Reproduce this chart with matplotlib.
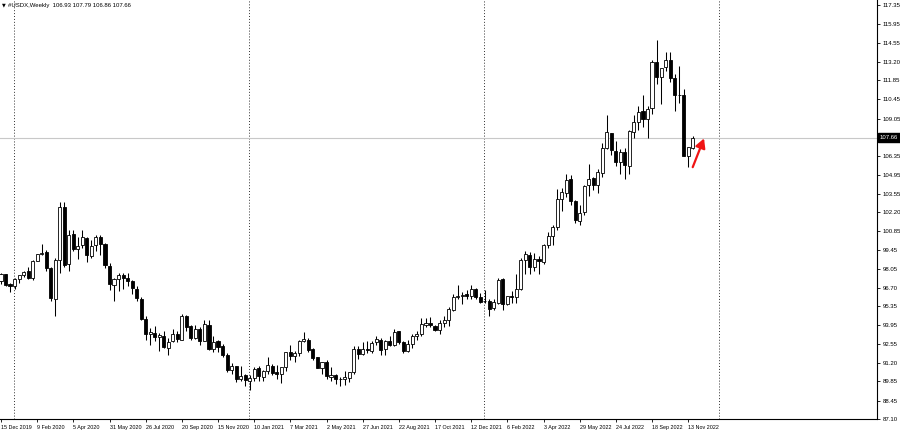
import matplotlib
matplotlib.use('Agg')
import matplotlib.pyplot as plt
import numpy as np

plt.rcParams['font.family'] = ['Liberation Sans', 'DejaVu Sans']

# weekly USDX bars, first bar = week of 15 Dec 2019 (8 bars per row)
opens = [
    97.16, 97.68, 96.95, 96.84, 97.36, 97.60, 97.90, 97.39,
    98.68, 99.12, 99.30, 98.10, 95.90, 98.75, 102.60, 98.40,
    100.60, 99.50, 99.80, 100.30, 99.00, 99.80, 100.40, 99.90,
    98.30, 96.90, 97.30, 97.60, 97.40, 97.20, 96.60, 95.90,
    94.40, 93.30, 93.40, 93.10, 93.20, 92.30, 92.80, 93.30,
    92.90, 94.60, 93.90, 93.00, 93.70, 92.80, 94.00, 92.20,
    92.80, 92.40, 91.80, 90.70, 91.00, 90.00, 90.30, 89.90,
    90.10, 90.80, 90.20, 90.60, 91.00, 90.50, 90.40, 90.90,
    92.00, 91.70, 91.90, 92.80, 92.90, 92.20, 91.60, 90.85,
    91.30, 90.20, 90.30, 90.00, 90.00, 90.10, 90.55, 92.20,
    91.85, 92.20, 92.10, 92.70, 92.90, 92.20, 92.80, 92.50,
    93.50, 92.70, 92.10, 92.60, 93.20, 93.30, 94.00, 94.10,
    93.90, 93.60, 94.10, 94.30, 95.10, 96.00, 96.10, 96.20,
    96.10, 96.60, 96.00, 95.70, 95.70, 95.20, 95.60, 97.30,
    95.50, 96.10, 96.00, 96.60, 98.70, 99.10, 98.20, 98.80,
    98.60, 99.80, 100.50, 101.10, 103.20, 103.60, 104.60, 103.00,
    101.60, 102.20, 104.20, 104.70, 104.20, 105.10, 106.90, 108.00,
    106.70, 105.90, 106.60, 105.60, 108.10, 108.80, 109.60, 109.00,
    109.80, 113.20, 112.10, 112.80, 113.30, 112.00, 110.80, 110.80,
    106.30, 106.93,
]
highs = [
    97.78, 97.72, 97.05, 97.42, 97.58, 97.95, 98.19, 98.73,
    99.15, 99.91, 99.45, 98.20, 98.90, 102.99, 102.95, 100.93,
    100.90, 100.40, 100.93, 100.40, 100.15, 100.55, 100.56, 99.97,
    98.50, 97.40, 97.80, 97.75, 97.80, 97.25, 96.80, 96.05,
    94.60, 93.72, 93.90, 93.40, 93.50, 93.00, 93.66, 93.50,
    94.74, 94.70, 94.00, 94.00, 93.80, 94.30, 94.30, 93.20,
    92.90, 92.60, 91.90, 91.20, 91.00, 91.00, 90.40, 90.30,
    90.90, 90.95, 90.70, 91.60, 91.10, 91.05, 90.90, 92.00,
    92.50, 92.10, 92.90, 93.44, 93.00, 92.30, 91.60, 91.30,
    91.40, 90.90, 90.40, 90.20, 90.60, 90.50, 92.40, 92.40,
    92.70, 92.80, 92.80, 93.20, 93.00, 92.90, 93.20, 93.70,
    93.50, 92.80, 92.90, 93.30, 93.50, 94.50, 94.50, 94.56,
    94.00, 94.30, 94.60, 95.30, 96.20, 96.90, 96.40, 96.50,
    96.90, 96.70, 96.30, 96.50, 95.90, 95.90, 97.40, 97.40,
    96.10, 96.45, 97.70, 98.90, 99.40, 99.30, 99.20, 99.00,
    99.90, 100.80, 101.30, 103.90, 104.00, 105.00, 104.90, 103.10,
    102.70, 104.20, 105.70, 104.80, 105.40, 107.30, 109.30, 108.00,
    107.40, 106.80, 106.90, 108.20, 109.30, 110.00, 110.80, 110.00,
    113.30, 114.78, 112.70, 113.90, 113.90, 112.30, 112.90, 111.20,
    107.00, 107.79,
]
lows = [
    97.00, 96.85, 96.40, 96.58, 97.05, 97.45, 97.33, 97.28,
    98.62, 99.07, 97.90, 95.75, 94.65, 97.80, 98.20, 97.90,
    99.40, 98.80, 99.60, 98.60, 98.90, 99.40, 99.10, 98.10,
    96.50, 95.71, 96.45, 96.60, 96.80, 96.20, 95.70, 94.30,
    92.90, 92.50, 92.78, 92.10, 92.30, 91.75, 92.70, 92.70,
    92.85, 93.50, 92.90, 92.98, 92.50, 92.80, 92.13, 92.00,
    92.00, 91.60, 90.50, 90.40, 89.80, 89.90, 89.50, 89.20,
    89.90, 89.90, 89.90, 90.40, 90.35, 90.05, 89.70, 90.60,
    91.40, 91.30, 91.70, 92.70, 92.00, 91.40, 90.85, 90.40,
    90.00, 89.90, 89.65, 89.50, 89.55, 89.80, 90.40, 91.50,
    91.80, 91.90, 91.90, 92.50, 91.80, 91.80, 92.40, 92.40,
    92.60, 91.90, 92.00, 92.30, 92.90, 93.20, 93.80, 93.80,
    93.50, 93.30, 93.80, 93.90, 95.00, 95.90, 95.50, 95.90,
    95.85, 95.90, 95.60, 95.60, 94.60, 95.10, 95.50, 95.10,
    95.40, 95.60, 95.60, 96.50, 97.70, 97.70, 97.90, 97.70,
    98.40, 99.60, 99.80, 100.90, 102.30, 103.30, 102.70, 101.40,
    101.30, 102.00, 103.40, 103.80, 103.60, 104.80, 106.80, 106.40,
    105.60, 105.00, 104.60, 105.00, 107.60, 108.20, 108.40, 107.60,
    109.40, 111.60, 110.10, 112.50, 111.70, 109.60, 110.20, 106.30,
    105.50, 106.86,
]
closes = [
    97.66, 96.92, 96.84, 97.36, 97.61, 97.87, 97.39, 98.68,
    99.12, 99.26, 98.13, 95.97, 98.75, 102.60, 98.37, 100.58,
    99.49, 99.77, 100.37, 99.07, 99.74, 100.41, 99.88, 98.34,
    96.93, 97.33, 97.62, 97.43, 97.16, 96.64, 95.92, 94.44,
    93.34, 93.43, 93.10, 93.24, 92.36, 92.75, 93.32, 92.92,
    94.63, 93.85, 93.04, 93.68, 92.77, 94.04, 92.23, 92.76,
    92.39, 91.79, 90.70, 90.98, 90.02, 90.24, 89.94, 90.10,
    90.77, 90.24, 90.58, 91.04, 90.48, 90.36, 90.88, 91.98,
    91.67, 91.91, 92.77, 92.92, 92.16, 91.56, 90.85, 91.28,
    90.23, 90.33, 90.01, 90.03, 90.14, 90.55, 92.23, 91.85,
    92.23, 92.12, 92.68, 92.92, 92.17, 92.80, 92.53, 93.46,
    92.69, 92.09, 92.58, 93.20, 93.33, 94.04, 94.08, 93.96,
    93.60, 94.12, 94.32, 95.13, 96.03, 96.09, 96.15, 96.10,
    96.62, 96.02, 95.67, 95.74, 95.17, 95.64, 97.27, 95.48,
    96.08, 96.05, 96.61, 98.69, 99.12, 98.20, 98.80, 98.63,
    99.80, 100.50, 101.13, 103.19, 103.66, 104.56, 103.04, 101.67,
    102.15, 104.15, 104.67, 104.19, 105.14, 106.88, 108.07, 106.73,
    105.85, 106.61, 105.63, 108.16, 108.77, 109.54, 108.99, 109.76,
    113.19, 112.12, 112.76, 113.31, 111.98, 110.75, 110.81, 106.30,
    106.97, 107.66,
]

tick_labels = ['15 Dec 2019', '9 Feb 2020', '5 Apr 2020', '31 May 2020', '26 Jul 2020',
               '20 Sep 2020', '15 Nov 2020', '10 Jan 2021', '7 Mar 2021', '2 May 2021',
               '27 Jun 2021', '22 Aug 2021', '17 Oct 2021', '12 Dec 2021', '6 Feb 2022',
               '3 Apr 2022', '29 May 2022', '24 Jul 2022', '18 Sep 2022', '13 Nov 2022']
tick_pos = list(range(0, 8 * len(tick_labels), 8))

price_ticks = [117.35, 115.95, 114.55, 113.20, 111.85, 110.45, 109.05, 106.35, 104.95,
               103.55, 102.20, 100.85, 99.45, 98.05, 96.70, 95.35, 93.95, 92.55, 91.20,
               89.85, 88.45, 87.10]

year_starts = [3, 55, 107, 159]   # first weekly bar of 2020..2023
arrow_from = (153.0, 105.5)
arrow_to = (155.5, 107.6)

o = np.array(opens)
h = np.array(highs)
l = np.array(lows)
c = np.array(closes)
x = np.arange(len(c))
last = c[-1]

fig = plt.figure(figsize=(9, 4.32), dpi=100)
ax = fig.add_axes([0, 13 / 432, 877 / 900, 419 / 432])

# separators + bid line
for ys in year_starts:
    ax.axvline(ys - 0.2, color='#303030', lw=0.7, linestyle=(0, (1, 2)), zorder=1)
ax.axhline(last, color='#c8c8c8', lw=0.8, zorder=1)

# candles
ax.vlines(x, l, h, color='black', lw=0.75, zorder=2)
up = c >= o
bottoms = np.minimum(o, c)
heights = np.maximum(np.abs(c - o), 0.01)
ax.bar(x, heights, bottom=bottoms, width=0.68,
       color=np.where(up, 'white', 'black'), edgecolor='black', linewidth=0.6, zorder=3)

ax.annotate('', xy=arrow_to, xytext=arrow_from,
            arrowprops=dict(arrowstyle='-|>,head_length=0.55,head_width=0.3',
                            color='#f01414', lw=1.6, shrinkA=0, shrinkB=0,
                            mutation_scale=10), zorder=4)

ax.set_xlim(-0.22, 193.76)
ax.set_ylim(87.10, 117.35 + 5 / 13.69)

ax.yaxis.tick_right()
ax.set_yticks(price_ticks)
ax.set_yticklabels(['%.2f' % p for p in price_ticks])
ax.set_xticks(tick_pos)
ax.set_xticklabels(tick_labels, ha='left')
ax.tick_params(axis='both', length=2.5, width=0.6, color='black', pad=1.5)
ax.tick_params(axis='x', labelsize=3.9)
ax.tick_params(axis='y', labelsize=4.3)

for side in ['left', 'top']:
    ax.spines[side].set_visible(False)
for side in ['right', 'bottom']:
    ax.spines[side].set_color('black')
    ax.spines[side].set_linewidth(0.8)

# current price box on the scale
ax.text(1.003, last, '%.2f' % last, transform=ax.get_yaxis_transform(),
        fontsize=4.3, color='white', ha='left', va='center', clip_on=False,
        bbox=dict(boxstyle='square,pad=0.3', fc='black', ec='black'))

fig.text(2 / 900, 1 - 5 / 432, '\u25bc', fontsize=3.5, va='center', ha='left',
         family='DejaVu Sans')
fig.text(8 / 900, 1 - 5 / 432,
         '#USDX,Weekly  %.2f %.2f %.2f %.2f' % (o[-1], h[-1], l[-1], c[-1]),
         fontsize=4.3, va='center', ha='left')

fig.savefig('out.png', dpi=100)
